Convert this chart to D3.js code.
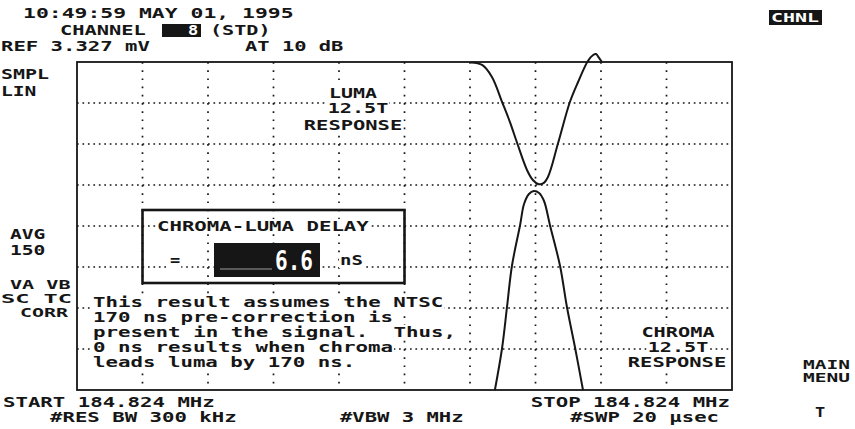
<!DOCTYPE html>
<html>
<head>
<meta charset="utf-8">
<script src="https://cdn.jsdelivr.net/npm/d3@7"></script>
<style>
  body { margin: 0; background: #fff; }
  svg text { font-family: 'DejaVu Sans Mono', monospace; font-size: 14px; font-weight: bold; fill: #161616; white-space: pre; }
</style>
</head>
<body>
<svg id="screen" width="855" height="429"></svg>
<script>
// zero-span sweep: 20 usec across 10 divisions, linear amplitude, ref level at top
const sweepRange = [0, 20];          // usec
const refLevel = 3.327;              // mV
const xDivs = 10, yDivs = 8;

// luma 12.5T response (time in usec, level in mV)
const lumaTime  = [12.03, 12.37, 12.67, 12.98, 13.22, 13.44, 13.74, 13.92, 14.08, 14.23, 14.38, 14.69, 15.05, 15.30, 15.60, 15.76, 15.85, 15.94, 16.03];
const lumaLevel = [3.322, 3.297, 3.175, 2.921, 2.718, 2.505, 2.232, 2.130, 2.090, 2.095, 2.161, 2.505, 2.921, 3.124, 3.337, 3.398, 3.408, 3.368, 3.327];

// chroma 12.5T response
const chromaTime  = [12.76, 12.98, 13.13, 13.28, 13.53, 13.65, 13.80, 13.95, 14.11, 14.26, 14.44, 14.75, 14.96, 15.21, 15.45];
const chromaLevel = [0, 0.426, 0.842, 1.258, 1.674, 1.887, 1.988, 2.018, 1.998, 1.917, 1.674, 1.258, 0.842, 0.426, 0];

const delayValue = "6.6";
const noteLines = [
  "This result assumes the NTSC",
  "170 ns pre-correction is",
  "present in the signal.  Thus,",
  "0 ns results when chroma",
  "leads luma by 170 ns."
];

const ink = "#161616";
const plot = {left: 77, right: 732, top: 62, bottom: 390};
const svg = d3.select("#screen");

const x = d3.scaleLinear().domain(sweepRange).range([plot.left, plot.right]);
const y = d3.scaleLinear().domain([0, refLevel]).range([plot.bottom, plot.top]);

// graticule
const xTicks = d3.range(1, xDivs).map(i => sweepRange[0] + i * (sweepRange[1] - sweepRange[0]) / xDivs);
const yTicks = d3.range(1, yDivs).map(j => j * refLevel / yDivs);
const vStep = (plot.bottom - plot.top) / yDivs / 5;
const hStep = (plot.right - plot.left) / xDivs / 12;

svg.append("g").selectAll("line").data(xTicks).enter().append("line")
  .attr("x1", d => x(d)).attr("x2", d => x(d))
  .attr("y1", plot.top).attr("y2", plot.bottom)
  .attr("stroke", ink).attr("stroke-width", 1.7)
  .attr("stroke-dasharray", "1.7 " + (vStep - 1.7));

svg.append("g").selectAll("line").data(yTicks).enter().append("line")
  .attr("x1", plot.left).attr("x2", plot.right)
  .attr("y1", d => y(d)).attr("y2", d => y(d))
  .attr("stroke", ink).attr("stroke-width", 1.7)
  .attr("stroke-dasharray", "1.7 " + (hStep - 1.7));

svg.append("rect")
  .attr("x", plot.left).attr("y", plot.top)
  .attr("width", plot.right - plot.left).attr("height", plot.bottom - plot.top)
  .attr("fill", "none").attr("stroke", ink).attr("stroke-width", 1.8);

// traces
const trace = d3.line().x(d => x(d[0])).y(d => y(d[1])).curve(d3.curveCatmullRom.alpha(0.5));
svg.append("path").datum(d3.zip(lumaTime, lumaLevel))
  .attr("d", trace).attr("fill", "none").attr("stroke", ink).attr("stroke-width", 2);
svg.append("path").datum(d3.zip(chromaTime, chromaLevel))
  .attr("d", trace).attr("fill", "none").attr("stroke", ink).attr("stroke-width", 2);

// text helper: monospace screen font, ~12.6px per character
function label(str, x0, base, opts) {
  opts = opts || {};
  const adv = opts.adv || 12.6;
  const w = opts.width || (str.length * adv - 2.4);
  let left = x0;
  if (opts.anchor == "middle") left = x0 - w / 2;
  if (opts.anchor == "end") left = x0 - w;
  if (opts.bg) {
    svg.append("rect").attr("x", left - 1).attr("y", base - 12)
      .attr("width", w + 2).attr("height", 15).attr("fill", opts.bg);
  }
  const t = svg.append("text")
    .attr("x", left).attr("y", base)
    .attr("textLength", w).attr("lengthAdjust", "spacingAndGlyphs")
    .style("fill", opts.color || ink)
    .text(str);
  if (opts.size) t.style("font-size", opts.size + "px");
  return t;
}

// header
label("10:49:59 MAY 01, 1995", 23, 18, {adv: 13});
label("CHANNEL", 60, 35);
svg.append("rect").attr("x", 162).attr("y", 24).attr("width", 39).attr("height", 13).attr("fill", ink);
label("8", 188, 35, {color: "#fff"});
label("(STD)", 210, 35);
label("REF 3.327 mV", 1, 51);
label("AT 10 dB", 245, 51);

svg.append("rect").attr("x", 769).attr("y", 10).attr("width", 53).attr("height", 15).attr("fill", ink);
label("CHNL", 771, 22, {color: "#fff", width: 48, size: 13});

// left annotations
label("SMPL", 1, 79);
label("LIN", 1, 96);
label("AVG", 10, 239);
label("150", 10, 255);
label("VA VB", 10, 289, {size: 13});
label("SC TC", 1, 303, {width: 71, size: 13});
label("CORR", 20, 317, {size: 13});

// luma / chroma captions
label("LUMA", 353, 98, {anchor: "middle", bg: "#fff"});
label("12.5T", 358, 113, {anchor: "middle", bg: "#fff"});
label("RESPONSE", 353, 130, {anchor: "middle", bg: "#fff"});
label("CHROMA", 678, 337, {anchor: "middle", bg: "#fff"});
label("12.5T", 678, 352, {anchor: "middle", bg: "#fff"});
label("RESPONSE", 677, 367, {anchor: "middle", bg: "#fff"});

// delay readout box
svg.append("rect").attr("x", x(2)).attr("y", 210).attr("width", x(10) - x(2)).attr("height", 73)
  .attr("fill", "none").attr("stroke", ink).attr("stroke-width", 2.6);
label("CHROMA-LUMA DELAY", 157, 231, {bg: "#fff"});
label("=", 170, 265, {bg: "#fff"});
svg.append("rect").attr("x", 214).attr("y", 243).attr("width", 106).attr("height", 34).attr("fill", ink);
svg.append("line").attr("x1", 220).attr("x2", 272).attr("y1", 269).attr("y2", 269)
  .attr("stroke", "#999").attr("stroke-width", 1.2);
svg.append("text").attr("x", 313).attr("y", 270).attr("text-anchor", "end")
  .style("font-size", "27px").style("fill", "#fff")
  .attr("textLength", 38).attr("lengthAdjust", "spacingAndGlyphs")
  .text(delayValue);
label("nS", 340, 265, {bg: "#fff"});

// explanation block
noteLines.forEach((s, i) => label(s, 93, 307 + i * 15, {bg: "#fff"}));

// footer
label("START 184.824 MHz", 3, 407);
label("STOP 184.824 MHz", 730, 407, {anchor: "end"});
label("#RES BW 300 kHz", 50, 422);
label("#VBW 3 MHz", 340, 422);
label("#SWP 20 \u00b5sec", 719, 422, {anchor: "end"});
label("MAIN", 803, 369, {size: 12, width: 47});
label("MENU", 803, 382, {size: 12, width: 47});
label("T", 815, 417);
</script>
</body>
</html>
